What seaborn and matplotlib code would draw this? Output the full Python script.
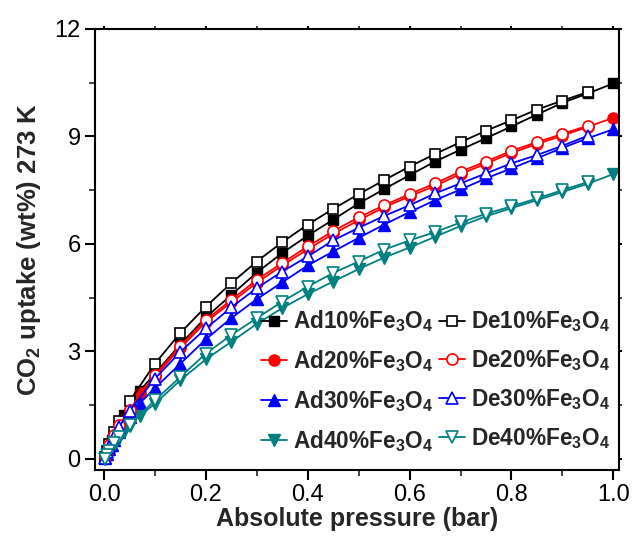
import matplotlib
matplotlib.use("Agg")
import matplotlib.pyplot as plt
import seaborn as sns
import pandas as pd

# ---- data ----
x_ad = [0.001, 0.005, 0.01, 0.015, 0.02, 0.03, 0.04, 0.05, 0.07, 0.10, 0.15, 0.20, 0.25, 0.30,
        0.35, 0.40, 0.45, 0.50, 0.55, 0.60, 0.65, 0.70, 0.75, 0.80, 0.85, 0.90, 0.95, 1.00]
x_de = [0.95, 0.90, 0.85, 0.80, 0.75, 0.70, 0.65, 0.60, 0.55, 0.50, 0.45, 0.40, 0.35, 0.30,
        0.25, 0.20, 0.15, 0.10, 0.05, 0.03, 0.02, 0.01, 0.005, 0.001]

ad10 = [0.05, 0.20, 0.38, 0.52, 0.68, 0.97, 1.22, 1.47, 1.90, 2.38, 3.20, 3.95, 4.58, 5.20,
        5.75, 6.23, 6.68, 7.13, 7.53, 7.92, 8.30, 8.63, 8.95, 9.28, 9.61, 9.94, 10.20, 10.48]
ad20 = [0.05, 0.22, 0.38, 0.52, 0.66, 0.89, 1.12, 1.35, 1.84, 2.30, 3.10, 3.82, 4.37, 4.92,
        5.40, 5.85, 6.28, 6.66, 7.02, 7.33, 7.62, 7.95, 8.24, 8.54, 8.79, 9.02, 9.27, 9.52]
ad30 = [0.03, 0.15, 0.28, 0.40, 0.52, 0.75, 0.98, 1.18, 1.55, 1.98, 2.66, 3.34, 3.93, 4.46,
        4.93, 5.40, 5.79, 6.17, 6.54, 6.89, 7.22, 7.52, 7.83, 8.11, 8.39, 8.68, 8.95, 9.20]
ad40 = [0.00, 0.10, 0.20, 0.30, 0.40, 0.58, 0.76, 0.92, 1.21, 1.54, 2.20, 2.78, 3.27, 3.77,
        4.21, 4.60, 4.95, 5.30, 5.62, 5.90, 6.20, 6.50, 6.77, 7.00, 7.22, 7.45, 7.68, 7.95]

de10 = [10.24, 10.00, 9.75, 9.45, 9.16, 8.84, 8.51, 8.16, 7.78, 7.39, 6.98, 6.54, 6.05, 5.51,
        4.91, 4.25, 3.52, 2.66, 1.61, 1.05, 0.75, 0.42, 0.22, 0.05]
de20 = [9.30, 9.07, 8.84, 8.60, 8.30, 8.02, 7.69, 7.39, 7.08, 6.74, 6.36, 5.93, 5.47, 5.00,
        4.44, 3.88, 3.16, 2.34, 1.37, 0.95, 0.68, 0.38, 0.20, 0.04]
de30 = [9.02, 8.74, 8.48, 8.25, 7.97, 7.69, 7.41, 7.08, 6.78, 6.45, 6.10, 5.65, 5.23, 4.77,
        4.23, 3.64, 2.99, 2.24, 1.34, 0.90, 0.62, 0.34, 0.18, 0.03]
de40 = [7.73, 7.50, 7.27, 7.05, 6.84, 6.60, 6.33, 6.10, 5.84, 5.51, 5.19, 4.81, 4.39, 3.93,
        3.46, 2.94, 2.29, 1.64, 0.95, 0.62, 0.43, 0.22, 0.11, 0.01]

ad_labels = [r"Ad10%Fe$_\mathbf{3}$O$_\mathbf{4}$", r"Ad20%Fe$_\mathbf{3}$O$_\mathbf{4}$",
             r"Ad30%Fe$_\mathbf{3}$O$_\mathbf{4}$", r"Ad40%Fe$_\mathbf{3}$O$_\mathbf{4}$"]
de_labels = [r"De10%Fe$_\mathbf{3}$O$_\mathbf{4}$", r"De20%Fe$_\mathbf{3}$O$_\mathbf{4}$",
             r"De30%Fe$_\mathbf{3}$O$_\mathbf{4}$", r"De40%Fe$_\mathbf{3}$O$_\mathbf{4}$"]
x_ticks = [0.0, 0.2, 0.4, 0.6, 0.8, 1.0]
y_ticks = [0, 3, 6, 9, 12]

# ---- style ----
sns.set_style("ticks")
plt.rcParams["font.family"] = ["Liberation Sans", "DejaVu Sans"]
plt.rcParams["mathtext.fontset"] = "custom"
plt.rcParams["mathtext.rm"] = "Liberation Sans"
plt.rcParams["mathtext.bf"] = "Liberation Sans:bold"
plt.rcParams["mathtext.it"] = "Liberation Sans:italic"

colors = ["#000000", "#FF0000", "#0000FF", "#008080"]
markers_ad = ["s", "o", "^", "v"]
markers_de = ["s", "o", "^", "v"]
msizes = [7, 8, 8.5, 8.5]

fig = plt.figure(figsize=(6.37, 5.45), dpi=100)
ax = fig.add_axes([0.1484, 0.1376, 0.8233, 0.8092])

handles_ad, handles_de = [], []
for ys, lab, c, m, ms in zip([ad10, ad20, ad30, ad40], ad_labels, colors, markers_ad, msizes):
    df = pd.DataFrame({"x": x_ad, "y": ys})
    sns.lineplot(data=df, x="x", y="y", ax=ax, color=c, marker=m, markersize=ms,
                 markerfacecolor=c, markeredgecolor=c, markeredgewidth=1.0,
                 linewidth=1.3, label=lab, legend=False, sort=False)
    handles_ad.append(ax.lines[-1])
for ys, lab, c, m, ms in zip([de10, de20, de30, de40], de_labels, colors, markers_de, msizes):
    df = pd.DataFrame({"x": x_de, "y": ys})
    sns.lineplot(data=df, x="x", y="y", ax=ax, color=c, marker=m, markersize=ms,
                 markerfacecolor="white", markeredgecolor=c, markeredgewidth=1.2,
                 linewidth=1.3, label=lab, legend=False, sort=False)
    handles_de.append(ax.lines[-1])

ax.set_xlim(-0.0187, 1.0112)
ax.set_ylim(-0.31, 12)
ax.set_xticks(x_ticks)
ax.set_xticklabels([f"{v:.1f}" for v in x_ticks])
ax.set_yticks(y_ticks)
ax.set_yticklabels([str(v) for v in y_ticks])
ax.set_xticks([0.1, 0.3, 0.5, 0.7, 0.9], minor=True)
ax.set_yticks([1.5, 4.5, 7.5, 10.5], minor=True)

for s in ax.spines.values():
    s.set_linewidth(1.5)
    s.set_color("black")
ax.tick_params(axis="both", which="major", direction="out", length=7, width=1.5,
               labelsize=17, colors="black", pad=3)
ax.tick_params(axis="both", which="minor", direction="out", length=4, width=1.2)
ax.tick_params(top=True, right=True, which="both")
# tiny ticks on top/right
for t in ax.xaxis.get_major_ticks() + ax.xaxis.get_minor_ticks():
    t.tick2line.set_markersize(2.5)
for t in ax.yaxis.get_major_ticks() + ax.yaxis.get_minor_ticks():
    t.tick2line.set_markersize(2.5)

ax.set_xlabel("Absolute pressure (bar)", fontsize=18, fontweight="bold", labelpad=1)
ax.set_ylabel(r"CO$_\mathbf{2}$ uptake (wt%) 273 K", fontsize=18.5, fontweight="bold", labelpad=8)

leg = ax.legend(handles=handles_ad + handles_de, labels=ad_labels + de_labels, ncol=2,
                loc="lower right", bbox_to_anchor=(1.012, 0.0), frameon=False,
                prop={"weight": "bold", "size": 16.3}, handlelength=1.15, handletextpad=0.25,
                columnspacing=0.25, labelspacing=0.62, borderaxespad=0.3)

fig.savefig("out.png", dpi=100)
